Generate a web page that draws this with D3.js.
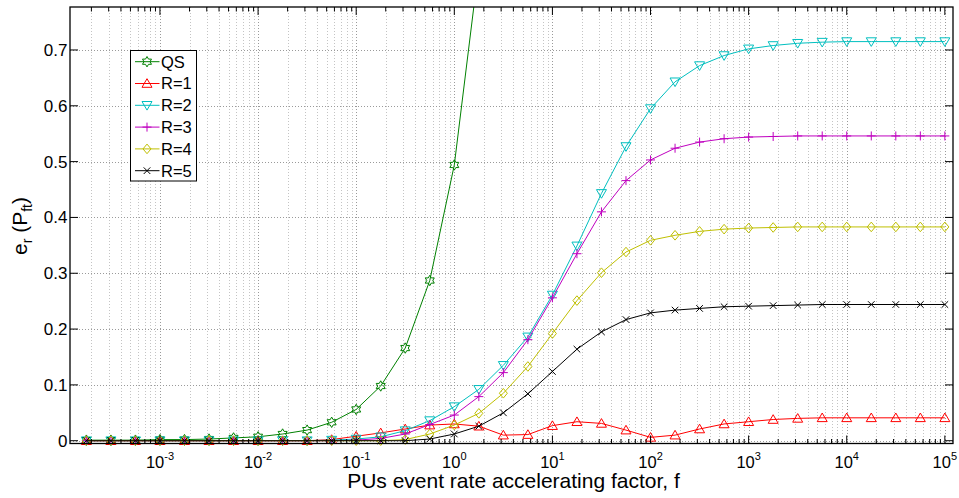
<!DOCTYPE html>
<html>
<head>
<meta charset="utf-8">
<script src="https://cdn.jsdelivr.net/npm/d3@7"></script>
<style>
  body { margin: 0; background: #fff; }
  svg { display: block; font-family: "Liberation Sans", Arial, Helvetica, sans-serif; }
</style>
</head>
<body>
<div id="chart"></div>
<script>
// --- data: x is log10(f), one point every quarter decade ---
const fExp = [-3.75, -3.5, -3.25, -3, -2.75, -2.5, -2.25, -2, -1.75, -1.5, -1.25, -1,
  -0.75, -0.5, -0.25, 0, 0.25, 0.5, 0.75, 1, 1.25, 1.5, 1.75, 2, 2.25, 2.5, 2.75, 3,
  3.25, 3.5, 3.75, 4, 4.25, 4.5, 4.75, 5];

// QS leaves the top of the plot after f = 10^0.25
const qsVals = [0.001, 0.001, 0.001, 0.002, 0.002, 0.003, 0.005, 0.007, 0.012, 0.019,
  0.033, 0.056, 0.098, 0.166, 0.287, 0.494, 0.85];
const r1Vals = [0, 0, 0, 0, 0, 0, 0, 0, 0, 0, 0.002, 0.008, 0.014, 0.021, 0.028, 0.030,
  0.026, 0.010, 0.011, 0.027, 0.034, 0.031, 0.019, 0.006, 0.010, 0.021, 0.030, 0.034,
  0.038, 0.040, 0.041, 0.041, 0.041, 0.041, 0.041, 0.041];
const r2Vals = [0, 0, 0, 0, 0, 0, 0, 0, 0, 0, 0.001, 0.003, 0.007, 0.018, 0.036, 0.061,
  0.092, 0.135, 0.186, 0.261, 0.349, 0.443, 0.527, 0.595, 0.643, 0.672, 0.690, 0.702,
  0.708, 0.712, 0.714, 0.715, 0.715, 0.715, 0.715, 0.715];
const r3Vals = [0, 0, 0, 0, 0, 0, 0, 0, 0, 0, 0, 0.001, 0.004, 0.012, 0.029, 0.046,
  0.079, 0.122, 0.181, 0.256, 0.335, 0.410, 0.466, 0.503, 0.524, 0.535, 0.541, 0.544,
  0.545, 0.546, 0.546, 0.546, 0.546, 0.546, 0.546, 0.546];
const r4Vals = [0, 0, 0, 0, 0, 0, 0, 0, 0, 0, 0, 0, 0, 0.002, 0.012, 0.028, 0.049,
  0.085, 0.133, 0.192, 0.251, 0.301, 0.338, 0.359, 0.368, 0.375, 0.379, 0.381, 0.382,
  0.383, 0.383, 0.383, 0.383, 0.383, 0.383, 0.383];
const r5Vals = [0, 0, 0, 0, 0, 0, 0, 0, 0, 0, 0, 0, 0, 0, 0.003, 0.012, 0.026, 0.050,
  0.084, 0.124, 0.164, 0.195, 0.217, 0.229, 0.234, 0.237, 0.240, 0.241, 0.242, 0.243,
  0.244, 0.244, 0.244, 0.244, 0.244, 0.244];

const seriesNames = ['QS', 'R=1', 'R=2', 'R=3', 'R=4', 'R=5'];
const seriesVals = [qsVals, r1Vals, r2Vals, r3Vals, r4Vals, r5Vals];
const seriesColors = ['#008000', '#ff0000', '#00bfbf', '#bf00bf', '#bfbf00', '#000000'];
const seriesMarkers = ['hexagram', 'triUp', 'triDown', 'plus', 'diamond', 'cross'];

const xMajorExp = [-3, -2, -1, 0, 1, 2, 3, 4, 5];
const yTicks = [0, 0.1, 0.2, 0.3, 0.4, 0.5, 0.6, 0.7];

// --- layout ---
const width = 959, height = 498;
const plot = { left: 70, right: 953, top: 7, bottom: 443.5 };

const svg = d3.select('#chart').append('svg')
  .attr('width', width).attr('height', height)
  .attr('font-family', '"Liberation Sans", Arial, Helvetica, sans-serif');

const x = d3.scaleLog()
  .domain([Math.pow(10, -3.917), Math.pow(10, 5.083)])
  .range([plot.left, plot.right]);
const y = d3.scaleLinear()
  .domain([-0.005, 0.777])
  .range([plot.bottom, plot.top]);

// minor decade ticks (2..9 x 10^k) inside the domain
const minorTicks = [];
for (let k = -4; k <= 5; k++) {
  for (let m = 2; m <= 9; m++) {
    const v = m * Math.pow(10, k);
    if (v > x.domain()[0] && v < x.domain()[1]) minorTicks.push(v);
  }
}
const majorTicks = xMajorExp.map(e => Math.pow(10, e));

// --- grid ---
const grid = svg.append('g').attr('class', 'grid')
  .attr('stroke-dasharray', '1,2').attr('stroke-width', 1);

grid.selectAll('.gx-minor').data(minorTicks).join('line')
  .attr('x1', d => Math.round(x(d)) + 0.5).attr('x2', d => Math.round(x(d)) + 0.5)
  .attr('y1', plot.top).attr('y2', plot.bottom)
  .attr('stroke', '#c4c4c4');
grid.selectAll('.gx-major').data(majorTicks).join('line')
  .attr('x1', d => Math.round(x(d)) + 0.5).attr('x2', d => Math.round(x(d)) + 0.5)
  .attr('y1', plot.top).attr('y2', plot.bottom)
  .attr('stroke', '#9a9a9a');
grid.selectAll('.gy').data(yTicks).join('line')
  .attr('x1', plot.left).attr('x2', plot.right)
  .attr('y1', d => Math.round(y(d)) + 0.5).attr('y2', d => Math.round(y(d)) + 0.5)
  .attr('stroke', '#9a9a9a');

// --- markers ---
function markerPath(type) {
  switch (type) {
    case 'hexagram': {
      // six-pointed star outline
      const pts = d3.range(12).map(i => {
        const a = -Math.PI / 2 + i * Math.PI / 6;
        const r = i % 2 === 0 ? 5.2 : 3.0;
        return [r * Math.cos(a), r * Math.sin(a)];
      });
      return 'M' + pts.map(p => p.join(',')).join('L') + 'Z';
    }
    case 'triUp': return 'M0,-4.8L5,3.8L-5,3.8Z';
    case 'triDown': return 'M0,4.8L5,-3.8L-5,-3.8Z';
    case 'plus': return 'M-4.5,0H4.5M0,-4.5V4.5';
    case 'diamond': return 'M0,-4.8L4,0L0,4.8L-4,0Z';
    case 'cross': return 'M-3.3,-3.3L3.3,3.3M-3.3,3.3L3.3,-3.3';
  }
}

svg.append('defs').append('clipPath').attr('id', 'plot-clip')
  .append('rect')
  .attr('x', plot.left).attr('y', plot.top)
  .attr('width', plot.right - plot.left).attr('height', plot.bottom - plot.top);

const line = d3.line()
  .x(d => x(Math.pow(10, d.e)))
  .y(d => y(d.v));

seriesVals.forEach((vals, s) => {
  const pts = vals.map((v, i) => ({ e: fExp[i], v }));
  const g = svg.append('g').attr('class', 'series');
  g.append('path')
    .attr('clip-path', 'url(#plot-clip)')
    .attr('d', line(pts))
    .attr('fill', 'none')
    .attr('stroke', seriesColors[s])
    .attr('stroke-width', 1);
  g.selectAll('path.mk')
    .data(pts.filter(d => d.v <= y.domain()[1]))
    .join('path')
    .attr('class', 'mk')
    .attr('transform', d => `translate(${x(Math.pow(10, d.e))},${y(d.v)})`)
    .attr('d', markerPath(seriesMarkers[s]))
    .attr('fill', 'none')
    .attr('stroke', seriesColors[s])
    .attr('stroke-width', 1);
});

// --- axes box and ticks (MATLAB style: ticks inward on all sides) ---
const axes = svg.append('g').attr('stroke', '#000');
axes.append('rect')
  .attr('x', plot.left).attr('y', plot.top)
  .attr('width', plot.right - plot.left).attr('height', plot.bottom - plot.top)
  .attr('fill', 'none').attr('stroke-width', 1.3);

const tickSets = [
  { data: majorTicks, len: 8 },
  { data: minorTicks, len: 4.5 }
];
tickSets.forEach(ts => {
  axes.selectAll(null).data(ts.data).join('line')
    .attr('x1', d => x(d)).attr('x2', d => x(d))
    .attr('y1', plot.bottom).attr('y2', plot.bottom - ts.len);
  axes.selectAll(null).data(ts.data).join('line')
    .attr('x1', d => x(d)).attr('x2', d => x(d))
    .attr('y1', plot.top).attr('y2', plot.top + ts.len);
});
axes.selectAll(null).data(yTicks).join('line')
  .attr('x1', plot.left).attr('x2', plot.left + 8)
  .attr('y1', d => y(d)).attr('y2', d => y(d));
axes.selectAll(null).data(yTicks).join('line')
  .attr('x1', plot.right).attr('x2', plot.right - 8)
  .attr('y1', d => y(d)).attr('y2', d => y(d));

// --- tick labels ---
const xLab = svg.append('g').attr('font-size', 16.5).attr('fill', '#000');
xMajorExp.forEach(e => {
  const t = xLab.append('text')
    .attr('x', x(Math.pow(10, e)))
    .attr('y', 467.5)
    .attr('text-anchor', 'middle');
  t.append('tspan').text('10');
  t.append('tspan').attr('dy', -8).attr('font-size', 11).text(String(e));
});

svg.append('g').attr('font-size', 17).attr('fill', '#000')
  .selectAll('text').data(yTicks).join('text')
  .attr('x', 67.5)
  .attr('y', d => y(d))
  .attr('dy', '0.35em')
  .attr('text-anchor', 'end')
  .text(d => d3.format('~g')(d));

// --- axis titles ---
svg.append('text')
  .attr('x', (plot.left + plot.right) / 2 + 2)
  .attr('y', 488)
  .attr('text-anchor', 'middle')
  .attr('font-size', 21)
  .text('PUs event rate accelerating factor, f');

const yTitle = svg.append('text')
  .attr('transform', 'translate(26.5,226) rotate(-90)')
  .attr('text-anchor', 'middle')
  .attr('font-size', 21);
yTitle.append('tspan').text('e');
yTitle.append('tspan').attr('dy', 5).attr('font-size', 14).text('r');
yTitle.append('tspan').attr('dy', -5).text(' (P');
yTitle.append('tspan').attr('dy', 5).attr('font-size', 14).text('ft');
yTitle.append('tspan').attr('dy', -5).text(')');

// --- legend ---
const legend = svg.append('g').attr('class', 'legend');
legend.append('rect')
  .attr('x', 130.5).attr('y', 50.5).attr('width', 66).attr('height', 130.5)
  .attr('fill', '#fff').attr('stroke', '#000').attr('stroke-width', 1);

const legendY = d3.scalePoint().domain(seriesNames).range([61.7, 170.7]);
seriesNames.forEach((name, s) => {
  const ly = legendY(name);
  legend.append('line')
    .attr('x1', 135).attr('x2', 159.5).attr('y1', ly).attr('y2', ly)
    .attr('stroke', seriesColors[s]).attr('stroke-width', 1);
  legend.append('path')
    .attr('transform', `translate(147,${ly})`)
    .attr('d', markerPath(seriesMarkers[s]))
    .attr('fill', 'none').attr('stroke', seriesColors[s]).attr('stroke-width', 1);
  legend.append('text')
    .attr('x', 161).attr('y', ly).attr('dy', '0.36em')
    .attr('font-size', 16.5)
    .text(name);
});
</script>
</body>
</html>
